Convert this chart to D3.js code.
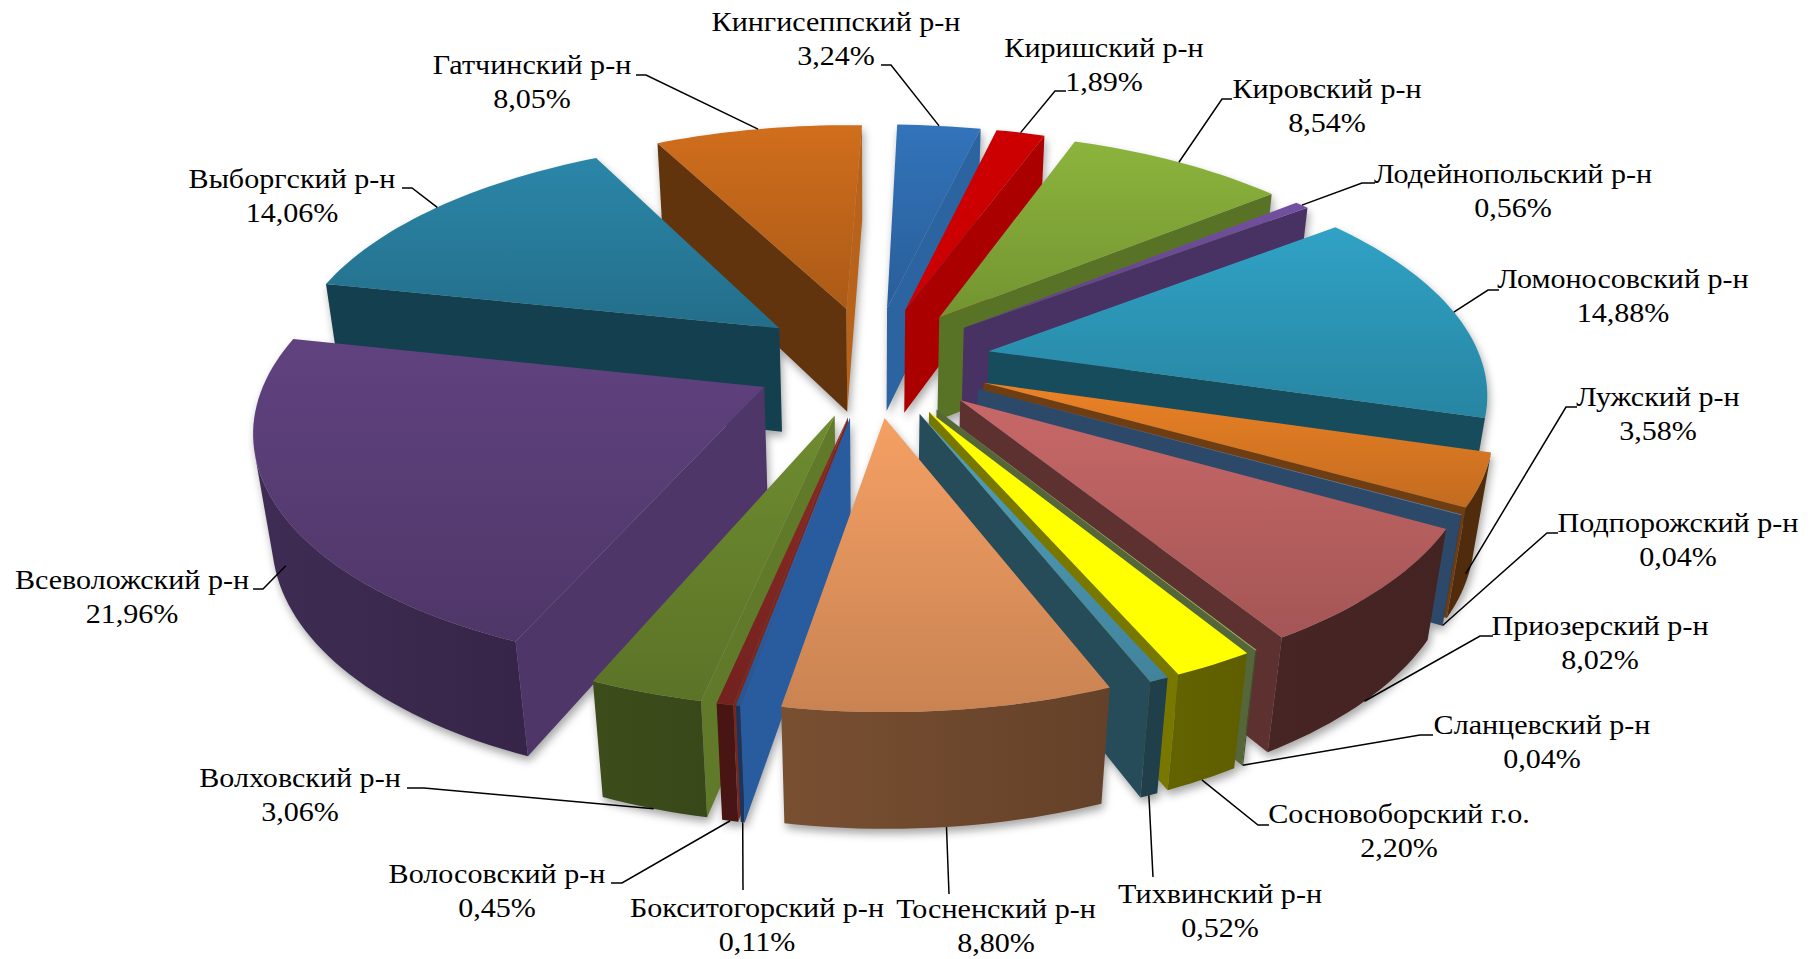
<!DOCTYPE html>
<html>
<head>
<meta charset="utf-8">
<script src="https://cdn.jsdelivr.net/npm/d3@7"></script>
<style>
  html, body { margin: 0; background: #fff; }
  svg { display: block; }
  .lbl { font-family: "Liberation Serif", serif; font-size: 27px; fill: #000; text-anchor: middle; }
</style>
</head>
<body>
<svg id="chart" width="1818" height="959"></svg>
<script>
// data (alphabetical, clockwise from the bottom)
const districts = ["Бокситогорский р-н", "Волосовский р-н", "Волховский р-н", "Всеволожский р-н", "Выборгский р-н",
  "Гатчинский р-н", "Кингисеппский р-н", "Киришский р-н", "Кировский р-н", "Лодейнопольский р-н", "Ломоносовский р-н",
  "Лужский р-н", "Подпорожский р-н", "Приозерский р-н", "Сланцевский р-н", "Сосновоборский г.о.", "Тихвинский р-н", "Тосненский р-н"];
const shares = [0.11, 0.45, 3.06, 21.96, 14.06, 8.05, 3.24, 1.89, 8.54, 0.56, 14.88, 3.58, 0.04, 8.02, 0.04, 2.20, 0.52, 8.80];
const colors = ["#2f69b5", "#8c2a26", "#6f8c30", "#60427f", "#2b86a8", "#d06e1c", "#3273ba", "#cc0000", "#8cb43c", "#7350a0",
  "#30a2c6", "#ec8226", "#5f9be0", "#c86868", "#b4dc78", "#ffff00", "#50a0be", "#f5a064"];
const flat = ["Киришский р-н", "Сосновоборский г.о."];   // these have no fade on the top face

// label centres (first line) in page pixels
const labelX = [757, 497, 300, 132, 292, 532, 836, 1104, 1327, 1513, 1623, 1658, 1678, 1600, 1542, 1399, 1220, 996];
const labelY = [908, 874, 778, 580, 179, 65, 22, 48, 89, 174, 279, 397, 523, 626, 725, 814, 894, 909];
// leader elbows: x of the label end, x of the bend, y
const elbowA = [743, 611, 407, 253, 402, 636, 881, 1066, 1232, 1375, 1499, 1577, 1558, 1493, 1433, 1269, 1153, 949];
const elbowB = [743, 622, 424, 263, 412, 646, 891, 1055, 1222, 1362, 1488, 1566, 1547, 1480, 1420, 1258, 1153, 949];
const elbowY = [890, 883, 788, 589, 188, 75, 65, 91, 99, 183, 290, 407, 533, 636, 735, 825, 877, 894];
const leaderZ = [1, 1, 1, 0.55, 0, 0, 0, 0, 0, 0, 0, 0.85, 1, 1, 1, 1, 1, 1];   // 0 = top rim, 1 = bottom rim

const rotation = 190;        // degrees, clockwise from north
const explode = 0.195;       // share of the total radius
const cam = { cx: 872, cy: 361, ax: 612, ay: 283, tz: 108, k: 0.195, m: 0.03 };

const textStretch = 1.115;

const svg = d3.select("#chart");
const defs = svg.append("defs");
const pieG = svg.append("g").style("filter", "drop-shadow(2px 5px 4px rgba(0,0,0,.35)) blur(0.5px)");
const leaderG = svg.append("g");
const labelG = svg.append("g");

const toRad = d3.scaleLinear().domain([0, 360]).range([0, 2 * Math.PI]);
const radius = 1 - explode;

// perspective: X to the right, Y towards the viewer, Z downward
function project(X, Y, Z) {
  const w = 1 - cam.k * Y + cam.m * Z;
  return [cam.cx + cam.ax * X / w, cam.cy + (cam.ay * Y + cam.tz * Z) / w];
}

const slices = d3.pie().sort(null).value(d => d)
  .startAngle(toRad(rotation)).endAngle(toRad(rotation + 360))(shares)
  .map((s, i) => {
    const mid = (s.startAngle + s.endAngle) / 2;
    return { i, a0: s.startAngle, a1: s.endAngle, mid, ox: explode * Math.sin(mid), oy: -explode * Math.cos(mid) };
  });

function apex(s, Z) { return project(s.ox, s.oy, Z); }
function rim(s, a, Z) { return project(s.ox + radius * Math.sin(a), s.oy - radius * Math.cos(a), Z); }
function rimX(s, a) { return s.ox + radius * Math.sin(a); }

// d3.polygonArea is positive for faces turned to the viewer in this winding
function facing(pts) {
  return d3.polygonArea(pts) > 0;
}

const line = d3.line();

function shade(col, f) {
  const c = d3.rgb(col);
  return d3.rgb(c.r * f, c.g * f, c.b * f).formatHex();
}

function addGradient(id, horizontal, a, b, c0, c1) {
  const g = defs.append("linearGradient").attr("id", id).attr("gradientUnits", "userSpaceOnUse");
  if (horizontal) g.attr("x1", a).attr("x2", b).attr("y1", 0).attr("y2", 0);
  else g.attr("x1", 0).attr("x2", 0).attr("y1", a).attr("y2", b);
  g.append("stop").attr("offset", 0).attr("stop-color", c0);
  g.append("stop").attr("offset", 1).attr("stop-color", c1);
}

// back slices first
const order = slices.slice().sort((p, q) => (-Math.cos(p.mid)) - (-Math.cos(q.mid)));

order.forEach(s => {
  const col = colors[s.i];
  const g = pieG.append("g");

  // radial walls
  [[s.a0, 1], [s.a1, -1]].forEach(([a, dir]) => {
    const pts = dir > 0
      ? [apex(s, 0), rim(s, a, 0), rim(s, a, 1), apex(s, 1)]
      : [rim(s, a, 0), apex(s, 0), apex(s, 1), rim(s, a, 1)];
    if (!facing(pts)) return;
    const nx = dir > 0 ? -Math.cos(a) : Math.cos(a);
    const f = 0.47 + 0.42 * Math.pow(Math.max(0, nx), 2);
    g.append("path").attr("d", line(pts) + "Z").attr("fill", shade(col, f));
  });

  // outer wall, visible part only
  const steps = Math.max(4, Math.ceil((s.a1 - s.a0) / toRad(1.5)));
  const run = [];
  d3.range(steps).forEach(n => {
    const p = s.a0 + (s.a1 - s.a0) * n / steps, q = s.a0 + (s.a1 - s.a0) * (n + 1) / steps;
    if (facing([rim(s, p, 0), rim(s, q, 0), rim(s, q, 1), rim(s, p, 1)])) {
      if (!run.length) run.push(p);
      run.push(q);
    }
  });
  if (run.length) {
    const outline = run.map(a => rim(s, a, 0)).concat(run.slice().reverse().map(a => rim(s, a, 1)));
    const xs = d3.extent(outline, d => d[0]);
    const byX = X => Math.max(0.34, 0.47 - 0.2 * X);
    const Xl = Math.min(rimX(s, run[0]), rimX(s, run[run.length - 1]));
    const Xr = Math.max(rimX(s, run[0]), rimX(s, run[run.length - 1]));
    addGradient("wall" + s.i, true, xs[0], xs[1], shade(col, byX(Xl)), shade(col, byX(Xr)));
    g.append("path").attr("d", line(outline) + "Z").attr("fill", `url(#wall${s.i})`);
  }

  // top face
  const topSteps = d3.range(steps + 1).map(n => rim(s, s.a0 + (s.a1 - s.a0) * n / steps, 0));
  const topPts = [apex(s, 0)].concat(topSteps);
  const ys = d3.extent(topPts, d => d[1]);
  const fade = flat.includes(districts[s.i]) ? 1 : 0.82;
  addGradient("top" + s.i, false, ys[0], ys[1], col, shade(col, fade));
  g.append("path").attr("d", line(topPts) + "Z").attr("fill", `url(#top${s.i})`);
});

// leaders and labels
slices.forEach(s => {
  const end = rim(s, s.mid, leaderZ[s.i]);
  leaderG.append("path")
    .attr("d", line([[elbowA[s.i], elbowY[s.i]], [elbowB[s.i], elbowY[s.i]], end]))
    .attr("fill", "none").attr("stroke", "#000").attr("stroke-width", 1.5);

  const t = labelG.append("g")
    .attr("transform", `translate(${labelX[s.i]},${labelY[s.i]}) scale(${textStretch},1)`);
  t.append("text").attr("class", "lbl").attr("y", 9).text(districts[s.i]);
  t.append("text").attr("class", "lbl").attr("y", 43).text(shares[s.i].toFixed(2).replace(".", ",") + "%");
});
</script>
</body>
</html>
